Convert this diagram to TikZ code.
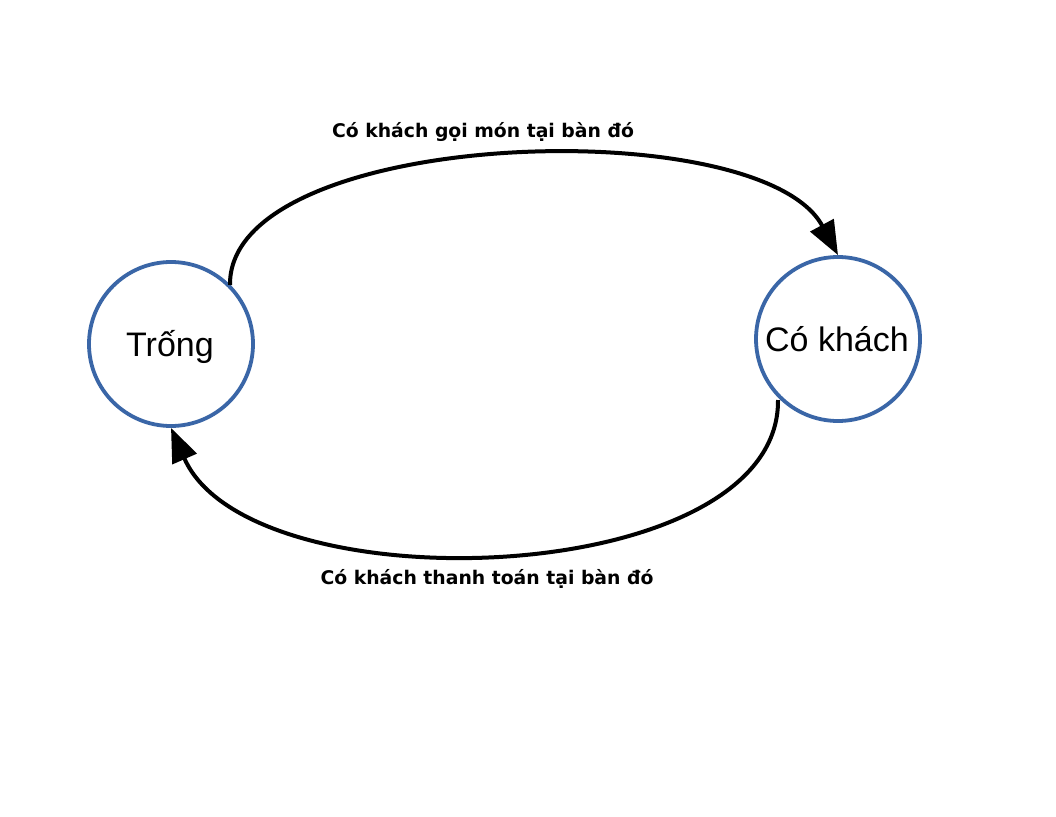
\documentclass[tikz,border=0pt]{standalone}
\usepackage{fontspec}
\setmainfont{Liberation Sans}
\newfontfamily\labelfont{DejaVu Sans}
\usetikzlibrary{arrows.meta}
\definecolor{circblue}{HTML}{3A66A7}
\begin{document}
\begin{tikzpicture}[x=1pt,y=-1pt,
  state/.style={circle,draw=circblue,line width=3.8pt,minimum size=164pt,inner sep=0pt},
  nodetext/.style={anchor=base,font=\fontsize{34}{36}\selectfont},
  trans/.style={line width=4pt,-{Triangle[length=34pt,width=26pt]}},
  lbl/.style={font=\labelfont\bfseries\fontsize{18.8}{20}\selectfont,anchor=base}]
\useasboundingbox (0,0) rectangle (1056,816);
\fill[white] (0,0) rectangle (1056,816);
\node[state] (t) at (171,344) {};
\node[nodetext] (tt) at (170,356) {Trống};
\node[state] (c) at (838,339) {};
\node[nodetext] (ct) at (837,351) {Có khách};
\coordinate (s1) at (230,285);
\coordinate (s2) at (778,400);
\draw[trans] (s1) .. controls (228,128) and (760,110) .. (c.north);
\draw[trans] (s2) .. controls (780,590) and (250,608) .. (t.south);
\node[lbl] (l1) at (483,137) {Có khách gọi món tại bàn đó};
\node[lbl] (l2) at (487,584) {Có khách thanh toán tại bàn đó};
\end{tikzpicture}
\end{document}
